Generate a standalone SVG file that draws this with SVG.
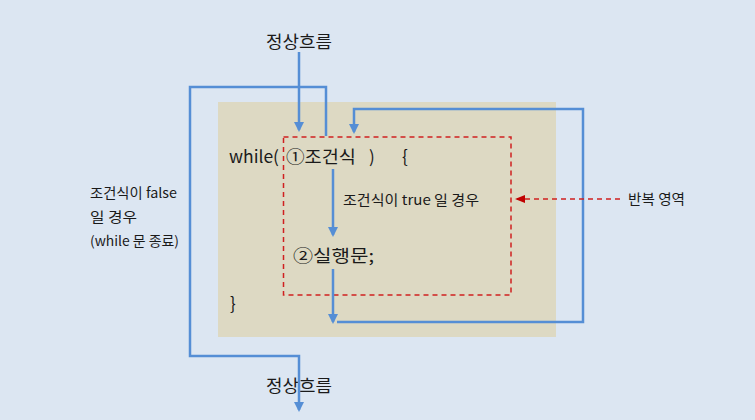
<svg xmlns="http://www.w3.org/2000/svg" width="755" height="420" viewBox="0 0 755 420">
<style>
text{font-family:"Noto Sans CJK KR","Noto Sans",sans-serif;fill:#1a1a1a}
.big{font-size:17px}
.mid{font-size:17px}
.sm{font-size:13.5px}
.flow{fill:none;stroke:#558ED5;stroke-width:2.5}
.dash{fill:none;stroke:#D02020;stroke-width:1.5;stroke-dasharray:5,4}
</style>
<defs>
<marker id="ab" markerWidth="10" markerHeight="10" refX="8" refY="5" orient="auto" markerUnits="userSpaceOnUse">
<path d="M0,0 L10,5 L0,10 z" fill="#558ED5"/>
</marker>
<marker id="ar" markerWidth="10" markerHeight="10" refX="8" refY="5" orient="auto" markerUnits="userSpaceOnUse">
<path d="M0,1 L10,5 L0,9 z" fill="#C00000"/>
</marker>
</defs>
<rect width="755" height="420" fill="#DCE6F2"/>
<g id="loop-body">
<rect x="218" y="102" width="338" height="235" fill="#DDD9C3"/>
</g>
<g id="repeat-region">
<rect x="283.5" y="137" width="227.5" height="158" class="dash"/>
</g>
<g id="code">
<text x="229" y="163" class="big" textLength="50" lengthAdjust="spacingAndGlyphs">while(</text>
<text x="286" y="163" class="big" textLength="70" lengthAdjust="spacingAndGlyphs">①조건식</text>
<text x="369" y="163" class="big">)</text>
<text x="402" y="163" class="big">{</text>
<text x="293" y="262" class="big" textLength="81" lengthAdjust="spacingAndGlyphs">②실행문;</text>
<text x="230" y="310" class="big">}</text>
</g>
<g id="label-true">
<text x="343" y="205" class="sm" textLength="136" lengthAdjust="spacingAndGlyphs">조건식이 true 일 경우</text>
</g>
<g id="label-false">
<text x="90" y="198" class="sm" textLength="87" lengthAdjust="spacingAndGlyphs">조건식이 false</text>
<text x="90" y="222" class="sm" textLength="47" lengthAdjust="spacingAndGlyphs">일 경우</text>
<text x="90" y="246" class="sm" textLength="89" lengthAdjust="spacingAndGlyphs">(while 문 종료)</text>
</g>
<g id="label-repeat">
<text x="628" y="204" class="sm" textLength="57" lengthAdjust="spacingAndGlyphs">반복 영역</text>
</g>
<g id="normal-top">
<text x="266" y="48" class="mid" textLength="66" lengthAdjust="spacingAndGlyphs">정상흐름</text>
</g>
<g id="normal-bottom">
<text x="266" y="392" class="mid" textLength="66" lengthAdjust="spacingAndGlyphs">정상흐름</text>
</g>
<g id="connectors">
<path class="flow" d="M299,52 V130" marker-end="url(#ab)"/>
<path class="flow" d="M326,136 V87 H190 V356 H299 V410" marker-end="url(#ab)"/>
<path class="flow" d="M337,322 H583 V109 H354 V132" marker-end="url(#ab)"/>
<path class="flow" d="M333,169 V235" marker-end="url(#ab)"/>
<path class="flow" d="M333,269 V322" marker-end="url(#ab)"/>
<path class="dash" d="M620,199 H517" marker-end="url(#ar)"/>
</g>
</svg>
